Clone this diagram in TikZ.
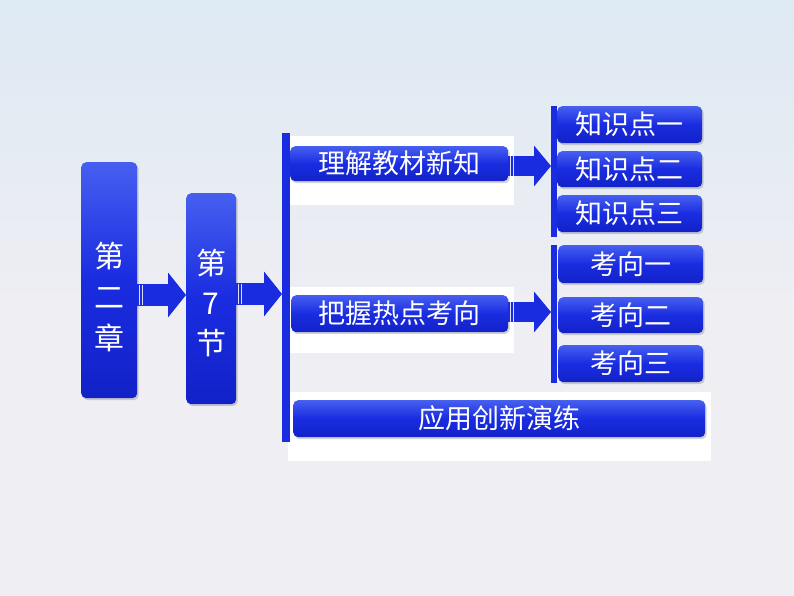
\documentclass[tikz,border=0pt]{standalone}
\usepackage{fontspec}
\newfontfamily\cjk{Noto Sans CJK SC}
\usetikzlibrary{arrows.meta,shadows,calc}
\definecolor{bgtop}{RGB}{221,233,243}
\definecolor{bgbot}{RGB}{238,238,243}
\definecolor{mainblue}{RGB}{26,44,224}
\definecolor{lightblue}{RGB}{70,95,240}
\definecolor{darkblue}{RGB}{18,34,200}
\tikzset{
  bluebox/.style={rounded corners=5pt, top color=lightblue, bottom color=darkblue, middle color=mainblue,
    draw=none, text=white, font=\cjk\fontsize{27}{29}\selectfont, inner sep=0pt,
    drop shadow={shadow xshift=1.5pt, shadow yshift=-2pt, opacity=0.35}},
  panel/.style={fill=white, draw=none, inner sep=0pt},
  vbar/.style={fill=mainblue, draw=none, inner sep=0pt},
  bigarrow/.style={line width=22pt, draw=mainblue, -{Triangle[length=18pt,width=44pt]}, shorten >=0pt},
  barline/.style={draw=white!85!mainblue, line width=1pt},
}
\begin{document}
\begin{tikzpicture}[x=1pt,y=-1pt]
\shade[top color=bgtop, bottom color=bgbot] (0,0) rectangle (794,300);
\fill[bgbot] (0,299.5) rectangle (794,596);
\useasboundingbox (0,0) rectangle (794,596);

% white panels
\node[panel, minimum width=228pt, minimum height=69pt, anchor=north west] (p1) at (286,136) {};
\node[panel, minimum width=228pt, minimum height=66pt, anchor=north west] (p2) at (286,287) {};
\node[panel, minimum width=423pt, minimum height=69pt, anchor=north west] (p3) at (288,392) {};

% vertical bars
\node[vbar, minimum width=8pt, minimum height=309pt, anchor=north west] (v1) at (282,133) {};
\node[vbar, minimum width=6pt, minimum height=131pt, anchor=north west] (v2) at (551,106) {};
\node[vbar, minimum width=6pt, minimum height=138pt, anchor=north west] (v3) at (551,245) {};

% left boxes
\node[bluebox, minimum width=56pt, minimum height=236pt, anchor=north west] (b1) at (81,162) {};
\node[text=white, font=\cjk\fontsize{30}{41}\selectfont, align=center, inner sep=0pt] (b1t) at ($(b1.center)+(0,17)$) {第\\二\\章};
\node[bluebox, minimum width=50pt, minimum height=211pt, anchor=north west] (b2) at (186,193) {};
\node[text=white, font=\cjk\fontsize{30}{40}\selectfont, align=center, inner sep=0pt] (b2t) at ($(b2.center)+(0,4)$) {第\\7\\节};

% middle boxes
\node[bluebox, minimum width=218pt, minimum height=35pt, anchor=north west] (m1) at (290,146) {理解教材新知};
\node[bluebox, minimum width=217pt, minimum height=37pt, anchor=north west] (m2) at (291,295) {把握热点考向};
\node[bluebox, minimum width=412pt, minimum height=37pt, anchor=north west] (m3) at (293,400) {应用创新演练};

% right boxes
\node[bluebox, minimum width=145pt, minimum height=37pt, anchor=north west] (k1) at (557,106) {知识点一};
\node[bluebox, minimum width=145pt, minimum height=36pt, anchor=north west] (k2) at (557,151) {知识点二};
\node[bluebox, minimum width=145pt, minimum height=37pt, anchor=north west] (k3) at (557,195) {知识点三};
\node[bluebox, minimum width=145pt, minimum height=38pt, anchor=north west] (t1) at (558,245) {考向一};
\node[bluebox, minimum width=145pt, minimum height=36pt, anchor=north west] (t2) at (558,297) {考向二};
\node[bluebox, minimum width=145pt, minimum height=37pt, anchor=north west] (t3) at (558,345) {考向三};

% arrows
\coordinate (y1) at (0,295);
\coordinate (y2) at (0,294);
\coordinate (y3) at (0,166);
\coordinate (y4) at (0,312);
\draw[bigarrow] (b1.east |- y1) -- (b2.west |- y1);
\draw[bigarrow] (b2.east |- y2) -- (v1.west |- y2);
\draw[bigarrow, line width=20pt, -{Triangle[length=17pt,width=40pt]}] (m1.east |- y3) -- (v2.west |- y3);
\draw[bigarrow, line width=20pt, -{Triangle[length=17pt,width=40pt]}] (m2.east |- y4) -- (v3.west |- y4);
\foreach \n/\y in {b1/y1,b2/y2,m1/y3,m2/y4}{
  \draw[barline] ($(\n.east |- \y)+(2,-10)$) -- ($(\n.east |- \y)+(2,10)$);
  \draw[barline] ($(\n.east |- \y)+(5,-10)$) -- ($(\n.east |- \y)+(5,10)$);
}
\end{tikzpicture}
\end{document}
